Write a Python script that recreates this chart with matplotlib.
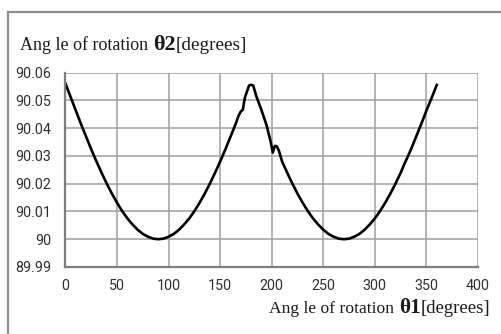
import matplotlib
matplotlib.use("Agg")
import matplotlib.pyplot as plt
from matplotlib.patches import Rectangle
from matplotlib.transforms import IdentityTransform

theta1 = [0, 5, 10, 15, 20, 25, 30, 35, 40, 45, 50, 55, 60, 65, 70, 75, 80, 85, 90,
          95, 100, 105, 110, 115, 120, 125, 130, 135, 140, 145, 150, 155, 160, 165,
          168, 170, 172, 173, 174, 176, 178, 180, 182, 185, 190, 195, 199, 201, 203,
          205, 207, 210, 215, 220, 225, 230, 235, 240, 245, 250, 255, 260, 265, 270,
          275, 280, 285, 290, 295, 300, 305, 310, 315, 320, 325, 329, 331, 335, 340,
          345, 350, 355, 357, 360]
theta2 = [90.0560, 90.0511, 90.0463, 90.0415, 90.0369, 90.0323, 90.0280, 90.0239,
          90.0200, 90.0164, 90.0131, 90.0101, 90.0075, 90.0053, 90.0034, 90.0019,
          90.0009, 90.0002, 90.0000,
          90.0002, 90.0009, 90.0019, 90.0034, 90.0053, 90.0075, 90.0101, 90.0131,
          90.0164, 90.0200, 90.0239, 90.0280, 90.0323, 90.0369, 90.0415,
          90.0446, 90.0460, 90.0466, 90.0490, 90.0510, 90.0532, 90.0553, 90.0556,
          90.0553, 90.0515, 90.0465, 90.0410, 90.0350, 90.0312, 90.0336,
          90.0334, 90.0318, 90.0280, 90.0239, 90.0200, 90.0164, 90.0131, 90.0101,
          90.0075, 90.0053, 90.0034, 90.0019, 90.0009, 90.0002, 90.0000,
          90.0002, 90.0009, 90.0019, 90.0034, 90.0053, 90.0075, 90.0101, 90.0131,
          90.0164, 90.0200, 90.0239, 90.0274, 90.0290, 90.0323, 90.0369,
          90.0415, 90.0463, 90.0508, 90.0527, 90.0555]

x_ticks = [0, 50, 100, 150, 200, 250, 300, 350, 400]
y_ticks = [89.99, 90.00, 90.01, 90.02, 90.03, 90.04, 90.05, 90.06]
y_tick_labels = ["89.99", "90", "90.01", "90.02", "90.03", "90.04", "90.05", "90.06"]

title_parts = [("Ang le of rotation ", 13.0, "normal"), ("\u03b82", 16, "bold"), ("[degrees]", 13.8, "normal")]
xlabel_parts = [("Ang le of rotation ", 12.6, "normal"), ("\u03b81", 15.3, "bold"), ("[degrees]", 13.5, "normal")]


def rich_text(fig, x, y, parts, ha="left"):
    # place text pieces one after another, x,y in pixels (baseline)
    renderer = fig.canvas.get_renderer()
    texts = []
    for s, size, weight in parts:
        t = fig.text(0, y, s, fontsize=size, fontweight=weight, family="Liberation Serif",
                     color="#1a1a1a", va="baseline", ha="left", transform=IdentityTransform())
        texts.append(t)
    widths = [t.get_window_extent(renderer).width for t in texts]
    start = x if ha == "left" else x - sum(widths)
    for t, w in zip(texts, widths):
        t.set_x(start)
        start += w


fig = plt.figure(figsize=(5.02, 3.34), dpi=100)
fig.patch.set_facecolor("white")

# outer chart frame (cut by the image edge on the right and bottom)
fig.patches.append(Rectangle((8 / 502, -0.1), 1.2, 1 - 11.5 / 334 + 0.1, transform=fig.transFigure,
                             fill=False, edgecolor="#8c8c8c", linewidth=1.6))

ax = fig.add_axes([65.5 / 502, 1 - 267 / 334, (478 - 65.5) / 502, (267 - 72.5) / 334])
ax.plot(theta1, theta2, color="black", linewidth=1.9, solid_joinstyle="round")

ax.set_xlim(0, 400)
ax.set_ylim(89.99, 90.06)
ax.set_xticks(x_ticks)
ax.set_yticks(y_ticks)
ax.set_yticklabels(y_tick_labels)
ax.grid(True, color="#a6a6a6", linewidth=1.2)
ax.set_axisbelow(True)
ax.tick_params(length=0, labelsize=10.3, labelcolor="#2e2e2e")
ax.tick_params(axis="y", pad=10)
ax.tick_params(axis="x", pad=9)
for lab in ax.get_xticklabels() + ax.get_yticklabels():
    lab.set_family("Roboto")
for side in ["top", "right"]:
    ax.spines[side].set_visible(False)
for side in ["left", "bottom"]:
    ax.spines[side].set_color("#7f7f7f")
    ax.spines[side].set_linewidth(1.6)

rich_text(fig, 20, 334 - 50, title_parts, ha="left")
rich_text(fig, 490, 334 - 313, xlabel_parts, ha="right")

fig.savefig("out.png", dpi=100, facecolor="white")
